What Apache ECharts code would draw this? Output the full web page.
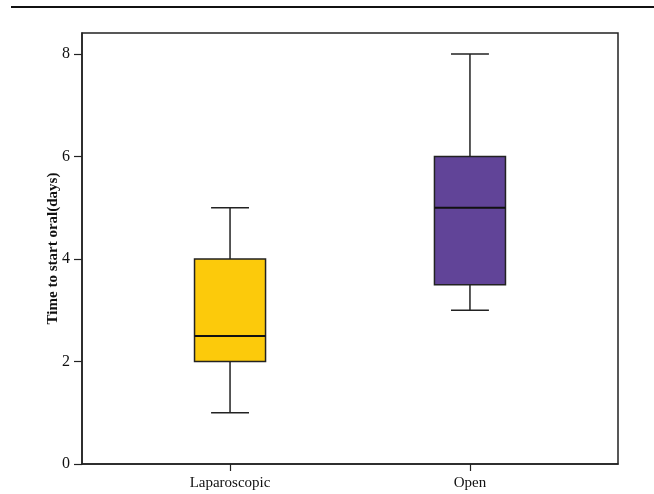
<!DOCTYPE html>
<html>
<head>
<meta charset="utf-8">
<script src="https://cdn.jsdelivr.net/npm/echarts@6/dist/echarts.min.js"></script>
<style>html,body{margin:0;padding:0;background:#fff}#c{width:654px;height:494px}</style>
</head>
<body>
<div id="c"></div>
<script>
// Data
var categories = ['Laparoscopic', 'Open'];
var positions = [1, 2];
var mins = [1, 3];
var q1s = [2, 3.5];
var medians = [2.5, 5];
var q3s = [4, 6];
var maxs = [5, 8];
var yTicks = [0, 2, 4, 6, 8];
var yAxisTitle = 'Time to start oral(days)';

var boxColors = ['#FCCA0B', '#614498'];

var seriesData = positions.map(function (p, i) {
  return [p, mins[i], q1s[i], medians[i], q3s[i], maxs[i]];
});

var chart = echarts.init(document.getElementById('c'), null, {renderer: 'canvas'});
var serif = '"Liberation Serif", "Times New Roman", serif';

chart.setOption({
  animation: false,
  backgroundColor: '#fff',
  graphic: [{
    type: 'line',
    shape: {x1: 11, y1: 7, x2: 654, y2: 7},
    style: {stroke: '#111', lineWidth: 2}
  }],
  grid: {
    left: 82, top: 33, right: 36, bottom: 30,
    show: true, borderColor: '#222', borderWidth: 1.5, backgroundColor: 'transparent'
  },
  xAxis: {
    type: 'value',
    min: 0.383, max: 2.617,
    splitLine: {show: false},
    axisLine: {show: true, onZero: false, lineStyle: {color: '#222', width: 1.5}},
    axisTick: {show: true, inside: false, length: 7, customValues: positions, lineStyle: {color: '#222', width: 1.2}},
    axisLabel: {
      show: true, margin: 12, color: '#111', fontFamily: serif, fontSize: 15,
      customValues: positions,
      formatter: function (v) { return categories[positions.indexOf(v)] || ''; }
    }
  },
  yAxis: {
    type: 'value',
    min: 0, max: 8.41,
    splitLine: {show: false},
    axisLine: {show: true, lineStyle: {color: '#222', width: 1.5}},
    axisTick: {show: true, inside: false, length: 8, customValues: yTicks, lineStyle: {color: '#222', width: 1.2}},
    axisLabel: {show: true, margin: 12, color: '#111', fontFamily: serif, fontSize: 16, customValues: yTicks},
    name: yAxisTitle,
    nameLocation: 'middle',
    nameGap: 21,
    nameMoveOverlap: false,
    nameRotate: 90,
    nameTextStyle: {fontFamily: serif, fontWeight: 'bold', fontSize: 15, color: '#111'}
  },
  series: [{
    type: 'custom',
    data: seriesData,
    encode: {x: 0, y: [1, 2, 3, 4, 5]},
    renderItem: function (params, api) {
      var x = api.value(0);
      var hw = 0.148, cw = 0.079;
      var pMin = api.coord([x, api.value(1)]);
      var pQ1 = api.coord([x, api.value(2)]);
      var pMed = api.coord([x, api.value(3)]);
      var pQ3 = api.coord([x, api.value(4)]);
      var pMax = api.coord([x, api.value(5)]);
      var left = api.coord([x - hw, 0])[0];
      var right = api.coord([x + hw, 0])[0];
      var cl = api.coord([x - cw, 0])[0];
      var cr = api.coord([x + cw, 0])[0];
      var lineStyle = {stroke: '#222', lineWidth: 1.5};
      return {
        type: 'group',
        children: [
          {type: 'line', shape: {x1: pMax[0], y1: pMax[1], x2: pQ3[0], y2: pQ3[1]}, style: lineStyle},
          {type: 'line', shape: {x1: pMin[0], y1: pMin[1], x2: pQ1[0], y2: pQ1[1]}, style: lineStyle},
          {type: 'line', shape: {x1: cl, y1: pMax[1], x2: cr, y2: pMax[1]}, style: lineStyle},
          {type: 'line', shape: {x1: cl, y1: pMin[1], x2: cr, y2: pMin[1]}, style: lineStyle},
          {type: 'rect', shape: {x: left, y: pQ3[1], width: right - left, height: pQ1[1] - pQ3[1]},
            style: {fill: boxColors[params.dataIndex], stroke: '#222', lineWidth: 1.5}},
          {type: 'line', shape: {x1: left, y1: pMed[1], x2: right, y2: pMed[1]}, style: {stroke: '#111', lineWidth: 2}}
        ]
      };
    }
  }]
});
</script>
</body>
</html>
